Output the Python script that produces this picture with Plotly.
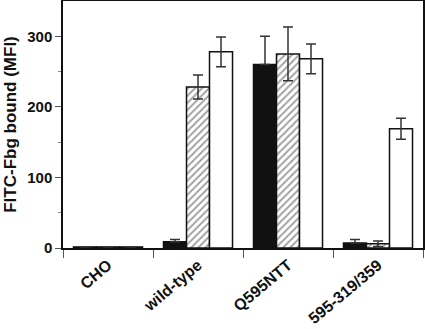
import plotly.graph_objects as go

categories = ["CHO", "wild-type", "Q595NTT", "595-319/359"]
black_vals = [1.5, 9, 260, 7]
black_err = [0, 3, 40, 5]
hatch_vals = [1.5, 228, 275, 6]
hatch_err = [0, 17, 38, 4]
white_vals = [1.5, 278, 268, 169]
white_err = [0, 21, 21, 15]

FONT = "Liberation Sans, Arial, sans-serif"
err_style = dict(type="data", visible=True, color="#333333", thickness=1.5, width=5)

fig = go.Figure()
fig.add_trace(go.Bar(
    x=categories, y=black_vals,
    marker=dict(color="#111111", line=dict(color="#111111", width=1.5)),
    error_y=dict(array=black_err, arrayminus=[0] * len(black_err), symmetric=False, **err_style),
    showlegend=False))
fig.add_trace(go.Bar(
    x=categories, y=hatch_vals,
    marker=dict(color="white", line=dict(color="#111111", width=1.5),
                pattern=dict(shape="/", fgcolor="#444444", bgcolor="white",
                             size=5, solidity=0.4)),
    error_y=dict(array=hatch_err, **err_style), showlegend=False))
fig.add_trace(go.Bar(
    x=categories, y=white_vals,
    marker=dict(color="white", line=dict(color="#111111", width=1.5)),
    error_y=dict(array=white_err, **err_style), showlegend=False))

fig.update_layout(
    width=425, height=329,
    margin=dict(l=63, r=2, t=1, b=81),
    barmode="group", bargap=0.233, bargroupgap=0,
    plot_bgcolor="white", paper_bgcolor="white",
    font=dict(family=FONT, color="#111111"),
)
fig.update_xaxes(
    showline=True, linecolor="#111111", linewidth=1.5, mirror=True,
    ticks="outside", tickson="boundaries", ticklen=8, tickcolor="#555555", tickwidth=1,
    tickangle=-40, tickfont=dict(family=FONT, size=16, weight="bold", color="#111111"),
    showgrid=False, automargin=False,
)
fig.update_yaxes(
    range=[0, 350], showline=True, linecolor="#111111", linewidth=1.5, mirror=True,
    tickvals=[0, 100, 200, 300], ticks="outside", ticklen=6, tickcolor="#555555", tickwidth=1,
    minor=dict(tickvals=[50, 150, 250], ticks="outside", ticklen=3, tickcolor="#888888"),
    tickfont=dict(family=FONT, size=15, weight="bold", color="#111111"),
    title=dict(text="FITC-Fbg bound (MFI)", font=dict(family=FONT, size=17, weight="bold", color="#111111"), standoff=6),
    showgrid=False, zeroline=False, automargin=False,
)
fig.write_html("out.html", config={"displayModeBar": False},
               post_script="document.body.style.margin='0';")
